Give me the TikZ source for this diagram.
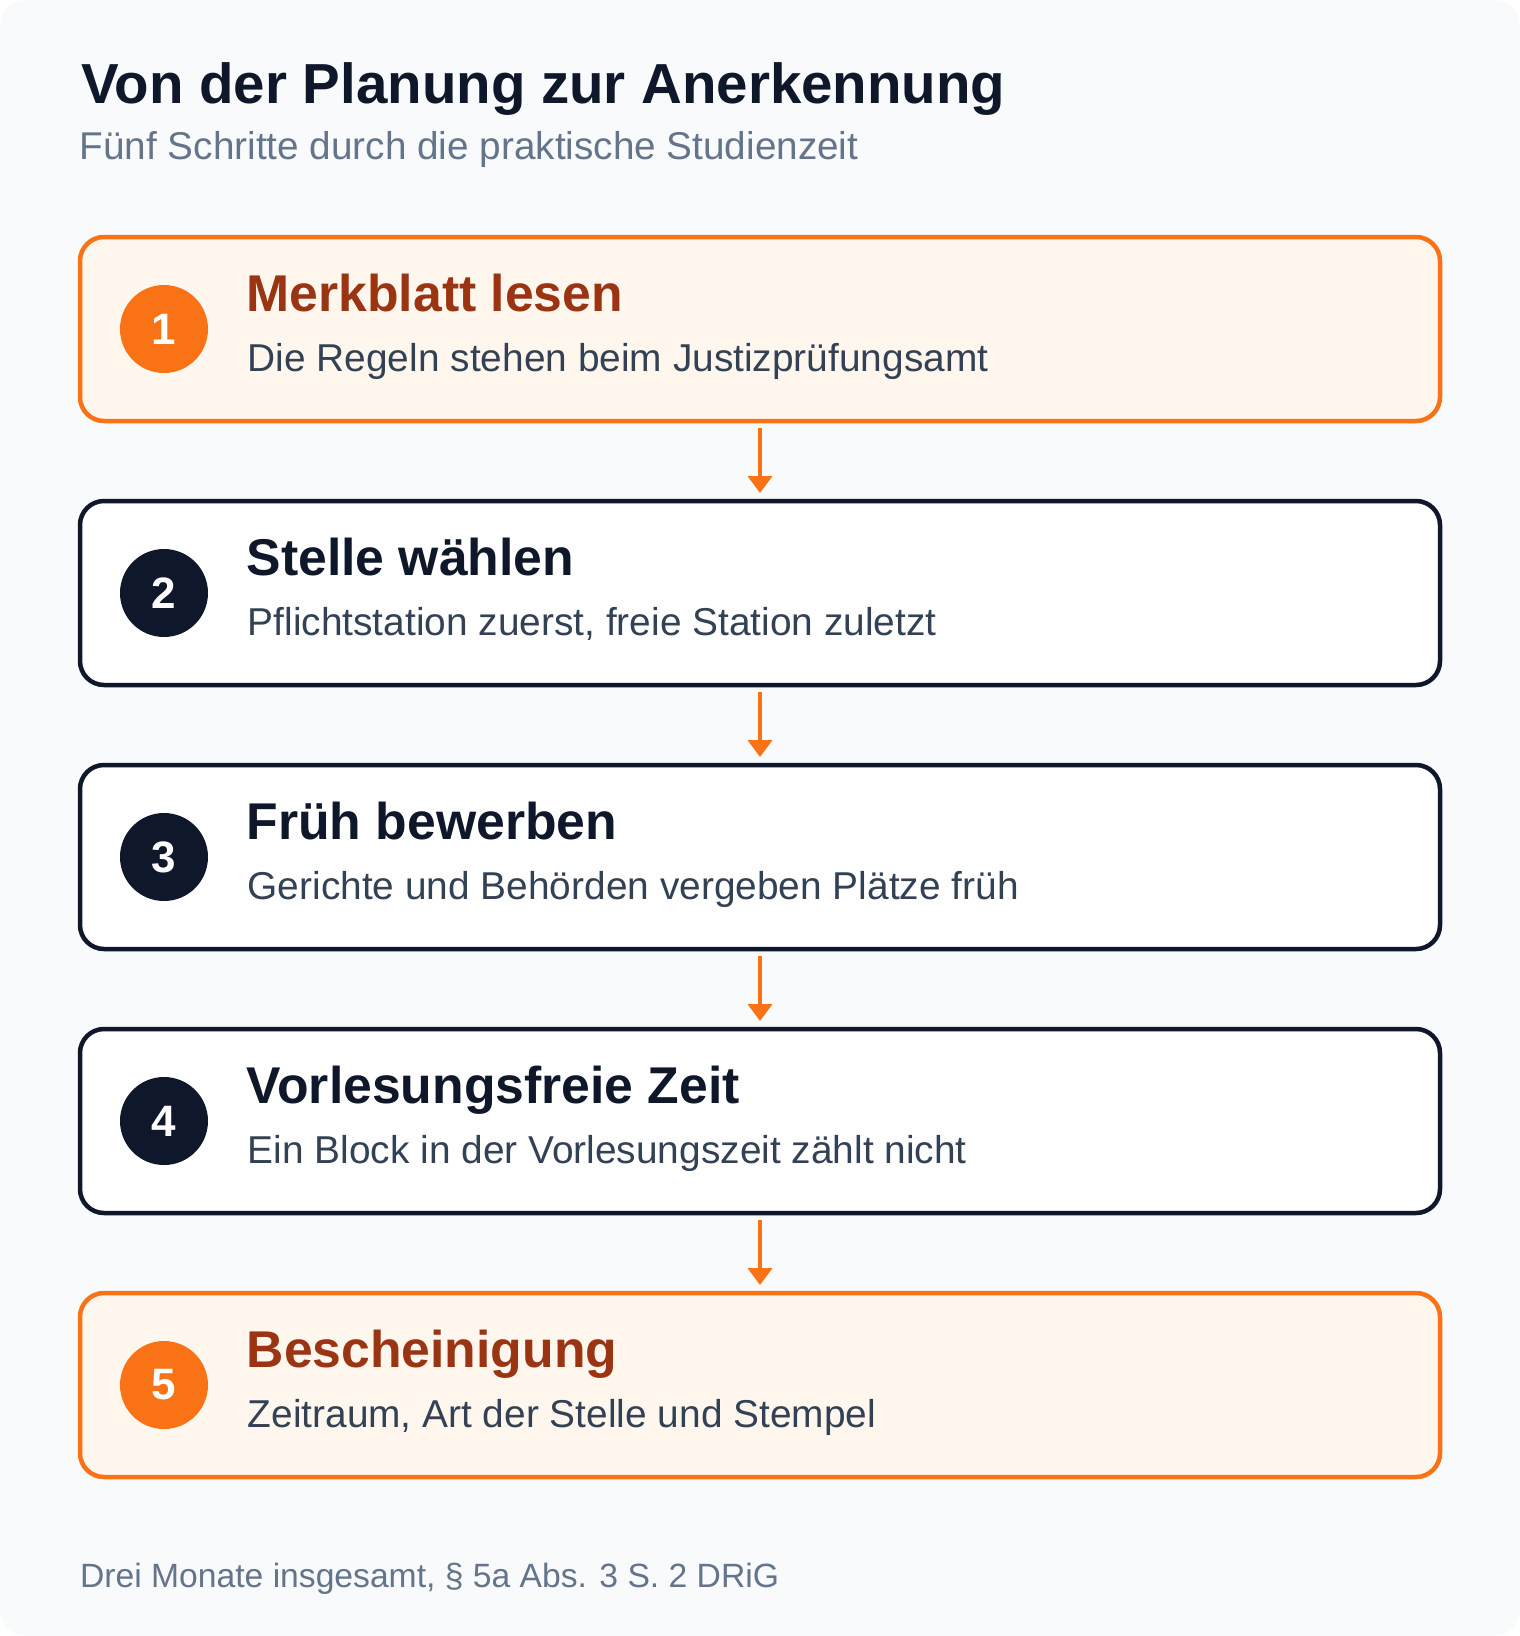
\documentclass[tikz,border=0pt]{standalone}
\usepackage{fontspec}
\setmainfont{Liberation Sans}
\usetikzlibrary{arrows.meta}
\definecolor{bgc}{HTML}{F8FAFC}
\definecolor{orng}{HTML}{F97316}
\definecolor{orngfill}{HTML}{FFF7ED}
\definecolor{orngdark}{HTML}{9A3412}
\definecolor{navy}{HTML}{0F172A}
\definecolor{slateseven}{HTML}{334155}
\definecolor{slatefive}{HTML}{64748B}
\tikzset{
  boxbase/.style={rectangle, rounded corners=24pt, line width=4.5pt, minimum width=1360pt, minimum height=184pt, inner sep=0pt},
  hlbox/.style={boxbase, draw=orng, fill=orngfill},
  plainbox/.style={boxbase, draw=navy, fill=white},
  numbase/.style={circle, minimum size=88pt, inner sep=0pt, text=white, font=\fontsize{44}{44}\selectfont\bfseries},
  hlnum/.style={numbase, fill=orng},
  plainnum/.style={numbase, fill=navy},
  txt/.style={anchor=base west, inner sep=0pt},
  hltitle/.style={txt, text=orngdark, font=\fontsize{51.7}{56}\selectfont\bfseries},
  plaintitle/.style={txt, text=navy, font=\fontsize{51.7}{56}\selectfont\bfseries},
  desc/.style={txt, text=slateseven, font=\fontsize{38.85}{42}\selectfont},
  arr/.style={draw=orng, line width=4.5pt, -{Triangle[length=17pt,width=24pt]}},
}
\begin{document}
\begin{tikzpicture}[x=1pt,y=-1pt]
\useasboundingbox (0,0) rectangle (1520,1636);
\fill[bgc, rounded corners=26pt] (0,0) rectangle (1520,1636);
\node[txt, text=navy, font=\fontsize{56.45}{60}\selectfont\bfseries] (title) at (81,103.3) {Von der Planung zur Anerkennung};
\node[txt, text=slatefive, font=\fontsize{38.7}{42}\selectfont] (subtitle) at (79.5,159) {Fünf Schritte durch die praktische Studienzeit};
% boxes
\node[hlbox] (b1) at (760,329) {};
\node[plainbox] (b2) at (760,593) {};
\node[plainbox] (b3) at (760,857) {};
\node[plainbox] (b4) at (760,1121) {};
\node[hlbox] (b5) at (760,1385) {};
% numbers
\node[hlnum] (n1) at (164,329) {1};
\node[plainnum] (n2) at (164,593) {2};
\node[plainnum] (n3) at (164,857) {3};
\node[plainnum] (n4) at (164,1121) {4};
\node[hlnum] (n5) at (164,1385) {5};
% titles
\node[hltitle] (t1) at (246.5,311.7) {Merkblatt lesen};
\node[plaintitle] (t2) at (246.5,575.7) {Stelle wählen};
\node[plaintitle] (t3) at (246.5,839.7) {Früh bewerben};
\node[plaintitle] (t4) at (246.5,1103.7) {Vorlesungsfreie Zeit};
\node[hltitle] (t5) at (246.5,1367.7) {Bescheinigung};
% descriptions
\node[desc] (d1) at (247.5,371) {Die Regeln stehen beim Justizprüfungsamt};
\node[desc] (d2) at (247.5,635) {Pflichtstation zuerst, freie Station zuletzt};
\node[desc] (d3) at (247.5,899) {Gerichte und Behörden vergeben Plätze früh};
\node[desc] (d4) at (247.5,1163) {Ein Block in der Vorlesungszeit zählt nicht};
\node[desc] (d5) at (247.5,1427) {Zeitraum, Art der Stelle und Stempel};
% arrows
\draw[arr] ([yshift=-4.75pt]b1.south) -- ([yshift=5.75pt]b2.north);
\draw[arr] ([yshift=-4.75pt]b2.south) -- ([yshift=5.75pt]b3.north);
\draw[arr] ([yshift=-4.75pt]b3.south) -- ([yshift=5.75pt]b4.north);
\draw[arr] ([yshift=-4.75pt]b4.south) -- ([yshift=5.75pt]b5.north);
% footer
\node[txt, text=slatefive, font=\fontsize{33.65}{38}\selectfont] (foot) at (80,1587.5) {Drei Monate insgesamt, § 5a Abs. 3 S. 2 DRiG};
\end{tikzpicture}
\end{document}
